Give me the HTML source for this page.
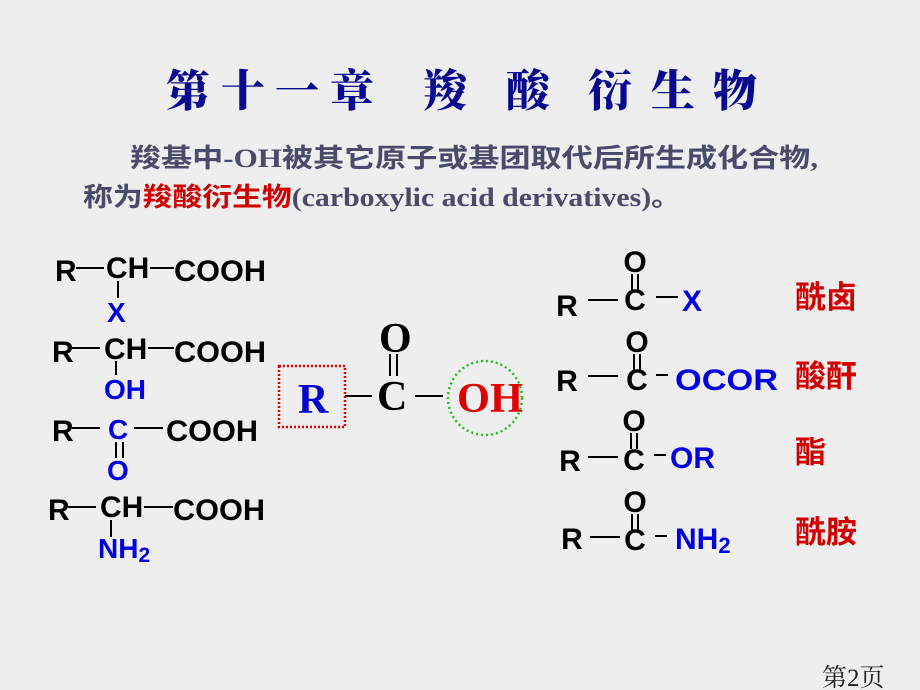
<!DOCTYPE html>
<html><head><meta charset="utf-8"><style>
body{margin:0;width:920px;height:690px;background:#eeeeee;overflow:hidden}
svg{display:block}
</style></head><body>
<svg width="920" height="690" xmlns="http://www.w3.org/2000/svg">
<rect width="920" height="690" fill="#eeeeee"/>
<g font-family="Noto Serif CJK SC, serif" font-weight="900" font-size="44" fill="#0a0a90" text-anchor="middle">
<text x="188" y="106">第</text><text x="243" y="106">十</text><text x="297" y="106">一</text><text x="352" y="106">章</text>
<text x="445" y="106">羧</text><text x="528" y="106">酸</text><text x="610" y="106">衍</text><text x="673" y="106">生</text><text x="735" y="106">物</text>
</g>
<g font-family="Liberation Serif, Noto Sans CJK SC, serif" font-weight="bold" font-size="26" fill="#4a4a6a">
<text x="130" y="167" textLength="688" lengthAdjust="spacingAndGlyphs">羧基中-OH被其它原子或基团取代后所生成化合物,</text>
<text x="83" y="206" textLength="598" lengthAdjust="spacingAndGlyphs">称为<tspan fill="#d00000">羧酸衍生物</tspan>(carboxylic acid derivatives)。</text>
</g>
<g font-family="Liberation Sans, sans-serif" font-weight="bold" font-size="30" fill="#000">
<text x="55" y="281">R</text><text x="106" y="278">CH</text><text x="174" y="281" textLength="92" lengthAdjust="spacingAndGlyphs">COOH</text>
<text x="52" y="362">R</text><text x="104" y="359">CH</text><text x="174" y="362" textLength="92" lengthAdjust="spacingAndGlyphs">COOH</text>
<text x="52" y="441">R</text><text x="166" y="441" textLength="92" lengthAdjust="spacingAndGlyphs">COOH</text>
<text x="48" y="520">R</text><text x="100" y="517">CH</text><text x="173" y="520" textLength="92" lengthAdjust="spacingAndGlyphs">COOH</text>
</g>
<g font-family="Liberation Sans, sans-serif" font-weight="bold" font-size="28" fill="#0000e0">
<text x="107" y="322">X</text>
<text x="104" y="399">OH</text>
<text x="108" y="439">C</text>
<text x="107" y="480">O</text>
<text x="98" y="558">NH<tspan font-size="21" dy="4">2</tspan></text>
</g>
<g stroke="#000" stroke-width="2">
<line x1="76" y1="268" x2="104" y2="268"/><line x1="150" y1="268" x2="174" y2="268"/><line x1="118" y1="281" x2="118" y2="298"/>
<line x1="72" y1="348" x2="100" y2="348"/><line x1="148" y1="348" x2="174" y2="348"/><line x1="116" y1="361" x2="116" y2="375"/>
<line x1="72" y1="428" x2="100" y2="428"/><line x1="134" y1="428" x2="163" y2="428"/>
<line x1="116" y1="442" x2="116" y2="458"/><line x1="123" y1="442" x2="123" y2="458"/>
<line x1="68" y1="507" x2="96" y2="507"/><line x1="144" y1="507" x2="173" y2="507"/><line x1="111" y1="520" x2="111" y2="537"/>
</g>
<rect x="279" y="366" width="66" height="61" fill="none" stroke="#e00000" stroke-width="2.5" stroke-dasharray="2,2"/>
<circle cx="485" cy="398" r="37" fill="none" stroke="#20c020" stroke-width="2.5" stroke-dasharray="2,3"/>
<g font-family="Liberation Serif, serif" font-size="42" font-weight="bold">
<text x="298" y="413" fill="#0000d0">R</text>
<text x="377" y="410" fill="#000">C</text>
<text x="379" y="352" fill="#000">O</text>
<text x="457" y="412" fill="#e00000" textLength="66" lengthAdjust="spacingAndGlyphs">OH</text>
</g>
<g stroke="#000" stroke-width="2">
<line x1="345" y1="396" x2="372" y2="396"/><line x1="415" y1="396" x2="443" y2="396"/>
<line x1="390" y1="354" x2="390" y2="376"/><line x1="397" y1="354" x2="397" y2="376"/>
</g>
<g font-family="Liberation Sans, sans-serif" font-weight="bold" font-size="30" fill="#000" text-anchor="middle">
<text x="567" y="316">R</text><text x="635" y="310">C</text><text x="635" y="272">O</text>
<text x="567" y="391">R</text><text x="637" y="390">C</text><text x="637" y="352">O</text>
<text x="570" y="471">R</text><text x="634" y="470">C</text><text x="634" y="431">O</text>
<text x="572" y="549">R</text><text x="635" y="550">C</text><text x="635" y="512">O</text>
</g>
<g font-family="Liberation Sans, sans-serif" font-weight="bold" font-size="30" fill="#0000e0">
<text x="682" y="311">X</text>
<text x="675" y="390" textLength="103" lengthAdjust="spacingAndGlyphs">OCOR</text>
<text x="670" y="468">OR</text>
<text x="675" y="549">NH<tspan font-size="22" dy="4">2</tspan></text>
</g>
<g stroke="#000" stroke-width="2">
<line x1="588" y1="300" x2="618" y2="300"/><line x1="656" y1="297" x2="678" y2="297"/><line x1="632" y1="274" x2="632" y2="290"/><line x1="638" y1="274" x2="638" y2="290"/>
<line x1="588" y1="376" x2="618" y2="376"/><line x1="656" y1="375" x2="668" y2="375"/><line x1="634" y1="354" x2="634" y2="370"/><line x1="640" y1="354" x2="640" y2="370"/>
<line x1="588" y1="457" x2="618" y2="457"/><line x1="654" y1="455" x2="666" y2="455"/><line x1="631" y1="433" x2="631" y2="449"/><line x1="637" y1="433" x2="637" y2="449"/>
<line x1="590" y1="537" x2="620" y2="537"/><line x1="655" y1="536" x2="667" y2="536"/><line x1="632" y1="514" x2="632" y2="530"/><line x1="638" y1="514" x2="638" y2="530"/>
</g>
<g font-family="Noto Sans CJK SC, sans-serif" font-weight="bold" font-size="31" fill="#d00000">
<text x="795" y="308">酰卤</text><text x="795" y="387">酸酐</text><text x="795" y="463">酯</text><text x="795" y="543">酰胺</text>
</g>
<text x="822" y="686" font-family="Liberation Serif, Noto Serif CJK SC, serif" font-size="25" fill="#222">第2页</text>
</svg>
</body></html>
